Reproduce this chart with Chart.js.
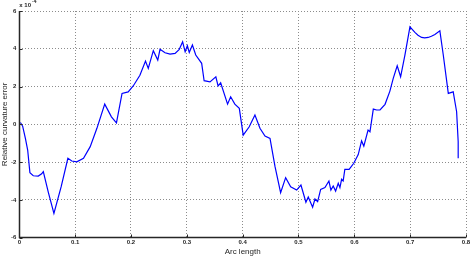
<!DOCTYPE html>
<html>
<head>
<meta charset="utf-8">
<script src="https://cdn.jsdelivr.net/npm/chart.js@4"></script>
<style>
  body { margin: 0; background: #fff; }
  canvas { display: block; }
</style>
</head>
<body>
<canvas id="curv" width="472" height="257"></canvas>
<script>
// arc length samples
const arcLength = [
  0.002, 0.006, 0.011, 0.015, 0.019, 0.025, 0.034, 0.040, 0.043, 0.052,
  0.062, 0.075, 0.087, 0.094, 0.103, 0.115, 0.127, 0.139, 0.153, 0.165,
  0.174, 0.184, 0.195, 0.204, 0.216, 0.226, 0.231, 0.240, 0.248, 0.252,
  0.261, 0.270, 0.279, 0.2865, 0.2925, 0.297, 0.301, 0.3044, 0.310, 0.316,
  0.3266, 0.331, 0.3415, 0.352, 0.356, 0.3606, 0.373, 0.3785, 0.386, 0.394,
  0.401, 0.4118, 0.422, 0.431, 0.440, 0.449, 0.458, 0.468, 0.477, 0.486,
  0.4967, 0.5044, 0.5133, 0.5175, 0.5253, 0.5295, 0.5343, 0.5397, 0.5474, 0.5545,
  0.558, 0.5622, 0.5665, 0.5712, 0.5742, 0.5772, 0.580, 0.583, 0.5907, 0.599,
  0.607, 0.613, 0.617, 0.6246, 0.628, 0.634, 0.640, 0.646, 0.655, 0.6637,
  0.6697, 0.6768, 0.6829, 0.6906, 0.6996, 0.7085, 0.714, 0.7205, 0.726, 0.7323,
  0.738, 0.7443, 0.7532, 0.7593, 0.7683, 0.7771, 0.7832, 0.786, 0.786
];
// relative curvature error, in units of 1e-4
const curvError = [
  0.10, -0.10, -0.75, -1.36, -2.56, -2.72, -2.74, -2.62, -2.50, -3.60,
  -4.71, -3.30, -1.80, -1.94, -1.98, -1.80, -1.18, -0.21, 1.07, 0.40,
  0.08, 1.64, 1.72, 2.03, 2.60, 3.35, 2.96, 3.90, 3.40, 3.97,
  3.79, 3.72, 3.76, 3.97, 4.37, 3.84, 4.16, 3.81, 4.20, 3.67,
  3.23, 2.31, 2.25, 2.52, 2.03, 2.20, 1.07, 1.46, 1.07, 0.85,
  -0.57, -0.13, 0.49, -0.21, -0.62, -0.74, -2.24, -3.62, -2.82, -3.30,
  -3.48, -3.21, -4.12, -3.85, -4.39, -3.95, -4.09, -3.44, -3.35, -3.00,
  -3.48, -3.26, -3.53, -3.12, -3.35, -2.91, -3.00, -2.38, -2.38, -2.06,
  -1.60, -0.88, -1.15, -0.30, -0.39, 0.81, 0.76, 0.76, 1.06, 1.76,
  2.43, 3.10, 2.52, 3.67, 5.16, 4.87, 4.72, 4.60, 4.58, 4.60,
  4.66, 4.76, 4.95, 3.67, 1.64, 1.72, 0.67, -0.92, -1.80
];
const xTicks = [0, 0.1, 0.2, 0.3, 0.4, 0.5, 0.6, 0.7, 0.8];
const yTicks = [-6, -4, -2, 0, 2, 4, 6];

const points = arcLength.map((x, i) => ({ x: x, y: curvError[i] }));

const tickFont = { family: 'Liberation Sans, Arial, sans-serif', size: 6, weight: 'bold' };
const titleFont = { family: 'Liberation Sans, Arial, sans-serif', size: 8 };
const axisColor = '#262626';

// grid line on the axis itself is hidden so the solid axis shows
function gridColor(edge) {
  return c => (c.tick && c.tick.value === edge) ? 'rgba(0,0,0,0)' : '#8c8c8c';
}

// solid axis lines, inward MATLAB-style ticks and the x10^-4 exponent
const matlabAxes = {
  id: 'matlabAxes',
  afterDraw(chart) {
    const ctx = chart.ctx;
    const xs = chart.scales.x, ys = chart.scales.y;
    const area = chart.chartArea;
    const l = Math.round(area.left) + 0.5, b = Math.round(area.bottom) - 0.5;
    ctx.save();
    ctx.strokeStyle = axisColor;
    ctx.lineWidth = 1.5;
    ctx.beginPath();
    ctx.moveTo(l, area.top);
    ctx.lineTo(l, b);
    ctx.lineTo(area.right, b);
    ctx.stroke();
    ctx.lineWidth = 1;
    ctx.beginPath();
    xTicks.forEach(v => {
      const px = Math.round(xs.getPixelForValue(v)) + 0.5;
      ctx.moveTo(px, b);
      ctx.lineTo(px, b - 3);
    });
    yTicks.forEach(v => {
      const py = Math.round(ys.getPixelForValue(v)) + 0.5;
      ctx.moveTo(l, py);
      ctx.lineTo(l + 3, py);
    });
    ctx.stroke();
    ctx.fillStyle = axisColor;
    ctx.textBaseline = 'alphabetic';
    ctx.font = 'bold 6px Liberation Sans, Arial, sans-serif';
    ctx.fillText('x 10', area.left, area.top - 4);
    const w = ctx.measureText('x 10').width;
    ctx.font = 'bold 5px Liberation Sans, Arial, sans-serif';
    ctx.fillText('-4', area.left + w + 1, area.top - 8);
    ctx.restore();
  }
};

new Chart(document.getElementById('curv'), {
  type: 'line',
  data: {
    datasets: [{
      data: points,
      borderColor: '#0000ff',
      borderWidth: 1.2,
      pointRadius: 0,
      tension: 0,
      fill: false
    }]
  },
  options: {
    responsive: false,
    animation: false,
    devicePixelRatio: 1,
    layout: { padding: { left: 0, right: 6, top: 11, bottom: 0 } },
    plugins: { legend: { display: false }, tooltip: { enabled: false } },
    scales: {
      x: {
        type: 'linear',
        min: 0, max: 0.8,
        afterBuildTicks: s => { s.ticks = xTicks.map(v => ({ value: v })); },
        afterFit: s => { s.height = 19.3; },
        ticks: {
          font: tickFont, color: axisColor, padding: 1,
          maxRotation: 0,
          callback: v => String(v)
        },
        grid: { color: gridColor(0), lineWidth: 1, drawTicks: false },
        border: { display: false, dash: [1, 2] },
        title: { display: true, text: 'Arc length', font: titleFont, color: axisColor, padding: 0 }
      },
      y: {
        min: -6, max: 6,
        afterBuildTicks: s => { s.ticks = yTicks.map(v => ({ value: v })); },
        afterFit: s => { s.width = 19.3; },
        ticks: { font: tickFont, color: axisColor, padding: 3 },
        grid: { color: gridColor(-6), lineWidth: 1, drawTicks: false },
        border: { display: false, dash: [1, 2] },
        title: { display: true, text: 'Relative curvature error', font: titleFont, color: axisColor, padding: 0 }
      }
    }
  },
  plugins: [matlabAxes]
});
</script>
</body>
</html>
